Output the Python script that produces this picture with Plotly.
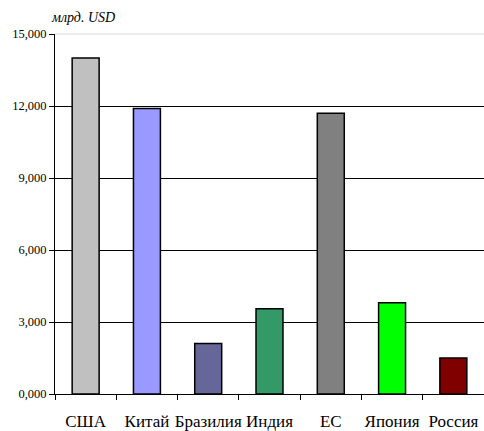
import plotly.graph_objects as go

categories = ["США", "Китай", "Бразилия", "Индия", "ЕС", "Япония", "Россия"]
values = [14000, 11900, 2100, 3550, 11700, 3800, 1500]
bar_colors = ["#C0C0C0", "#9999FF", "#666699", "#339966", "#808080", "#00FF00", "#800000"]
y_tick_vals = [0, 3000, 6000, 9000, 12000, 15000]
y_tick_text = ["0,000", "3,000", "6,000", "9,000", "12,000", "15,000"]
unit_label = "млрд. USD"

fig = go.Figure(go.Bar(
    x=categories, y=values, width=0.44,
    marker=dict(color=bar_colors, line=dict(color="black", width=1.5)),
))

serif = "Liberation Serif"
fig.update_layout(
    width=484, height=431,
    margin=dict(l=55, r=0, t=34, b=37),
    plot_bgcolor="white", paper_bgcolor="white",
    showlegend=False,
    font=dict(family=serif, color="black"),
)
fig.update_xaxes(
    type="category", range=[-0.5, 6.5], automargin=False,
    showline=True, linecolor="black", linewidth=1,
    ticks="outside", tickson="boundaries", ticklen=5, tickcolor="black",
    tickangle=0, ticklabelstandoff=12,
    tickfont=dict(family=serif, size=17, color="black"),
    showgrid=False,
)
fig.update_yaxes(
    range=[0, 15000], automargin=False,
    tickvals=y_tick_vals, ticktext=y_tick_text,
    showline=True, linecolor="black", linewidth=1,
    ticks="outside", ticklen=5, tickcolor="black",
    tickfont=dict(family=serif, size=12.5, color="black"),
    showgrid=True, gridcolor="black", gridwidth=1,
    zeroline=False,
)
# light top border over top gridline
fig.add_shape(type="line", xref="paper", yref="paper", x0=0, x1=1, y0=1, y1=1,
              line=dict(color="#D9D9D9", width=1))
fig.add_annotation(text="<i>" + unit_label + "</i>", xref="paper", yref="paper", x=-0.015, y=1,
                   xanchor="left", yanchor="bottom", yshift=7, showarrow=False,
                   font=dict(family=serif, size=14, color="black"))

fig.write_html("out.html", config={"displayModeBar": False},
               post_script="document.body.style.margin='0';")
